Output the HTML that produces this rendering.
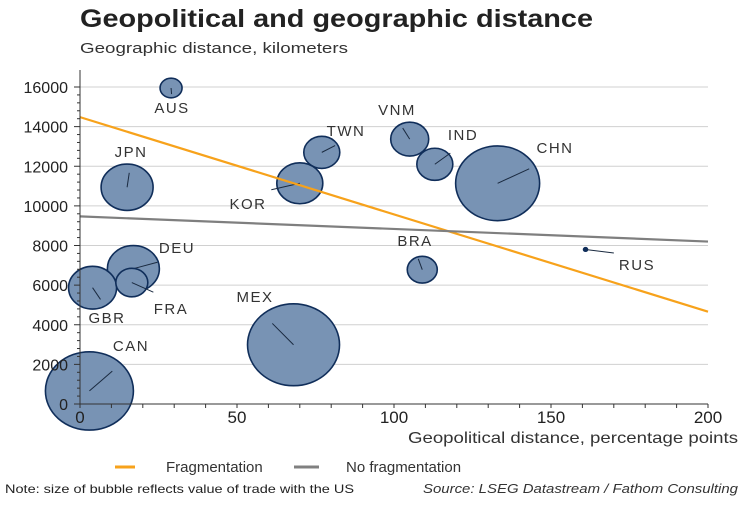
<!DOCTYPE html>
<html><head><meta charset="utf-8"><style>
body{margin:0;background:#fff;}
svg text{font-family:"Liberation Sans",Arial,sans-serif;}
</style></head><body>
<svg id="chart" width="750" height="500" viewBox="0 0 750 500" xmlns="http://www.w3.org/2000/svg">
<text x="80" y="27" font-size="25" font-weight="bold" fill="#222" textLength="513" lengthAdjust="spacingAndGlyphs">Geopolitical and geographic distance</text>
<text x="80" y="53" font-size="15" fill="#333" textLength="268" lengthAdjust="spacingAndGlyphs">Geographic distance, kilometers</text>
<g id="grid"></g>
<g id="bubbles"></g>
<g id="lines"></g>
<g id="axes"></g>
<text x="408" y="443" font-size="16" fill="#333" textLength="330" lengthAdjust="spacingAndGlyphs">Geopolitical distance, percentage points</text>
<line x1="115" y1="467" x2="135" y2="467" stroke="#f7a21b" stroke-width="3"/>
<text x="166" y="472" font-size="15" fill="#333">Fragmentation</text>
<line x1="294" y1="467" x2="319" y2="467" stroke="#808080" stroke-width="3"/>
<text x="346" y="472" font-size="15" fill="#333">No fragmentation</text>
<text x="5" y="493" font-size="12" fill="#222" textLength="349" lengthAdjust="spacingAndGlyphs">Note: size of bubble reflects value of trade with the US</text>
<text x="423" y="493" font-size="13" font-style="italic" fill="#333" textLength="315" lengthAdjust="spacingAndGlyphs">Source: LSEG Datastream / Fathom Consulting</text>
</svg>
<script>
const countries=["AUS","JPN","TWN","KOR","VNM","IND","CHN","RUS","BRA","DEU","GBR","FRA","MEX","CAN"];
const geoPol=[29,15,77,70,105,113,133,161,109,17,4,16.5,68,3];
const geoDist=[15950,10940,12700,11140,13370,12100,11140,7800,6780,6830,5870,6130,2990,660];
const tradeSize=[11,26,18,23,19,18,42,2,15,26,24,16,46,44];
const labelX=[172,131,346,248,397,463,555,637,415,177,107,171,255,131];
const labelY=[113,157,136,209,115,140,153,270,246,253,323,314,302,351];
const fragLine=[[0,14480],[200,4660]];
const noFragLine=[[0,9470],[200,8200]];
const xTicks=[0,50,100,150,200];
const yTicks=[0,2000,4000,6000,8000,10000,12000,14000,16000];
const X0=80,X1=708,Y0=404,Y1=87;
const sx=v=>X0+(X1-X0)*v/200, sy=v=>Y0-(Y0-Y1)*v/16000;
const NS="http://www.w3.org/2000/svg";
function mk(t,a,p){const e=document.createElementNS(NS,t);for(const k in a)e.setAttribute(k,a[k]);p.appendChild(e);return e;}
const grid=document.getElementById('grid'),ax=document.getElementById('axes'),bub=document.getElementById('bubbles'),ln=document.getElementById('lines');
yTicks.forEach(v=>{
 if(v>0){const g=mk('line',{x1:X0,x2:X1,y1:sy(v),y2:sy(v),stroke:'#d0d0d0','stroke-width':1},grid);
 
 }
 const t=mk('text',{x:68,y:sy(v)+6,'font-size':16,fill:'#222','text-anchor':'end'},ax);t.textContent=v;
 
 
});
for(let v=0;v<=16000;v+=400){mk('line',{x1:X0-(v%2000?3:6),x2:X0,y1:sy(v),y2:sy(v),stroke:'#333'},ax);}
for(let v=0;v<=200;v+=10){mk('line',{x1:sx(v),x2:sx(v),y1:Y0,y2:Y0+4,stroke:'#333'},ax);}
xTicks.forEach(v=>{const t=mk('text',{x:sx(v),y:Y0+19,'font-size':17,fill:'#222','text-anchor':'middle'},ax);t.textContent=v;
 
 });
mk('line',{x1:X0,x2:X0,y1:70,y2:Y0,stroke:'#333'},ax);
mk('line',{x1:X0,x2:X1,y1:Y0,y2:Y0,stroke:'#333'},ax);
countries.forEach((c,i)=>{
 const cx=sx(geoPol[i]),cy=sy(geoDist[i]),r=tradeSize[i];
 const e=mk('ellipse',{cx:cx,cy:cy,rx:r,ry:r*0.89,fill:'#7893b4',stroke:'#102e5a','stroke-width':1.6},bub);
 
 
 const lx=labelX[i],ly=labelY[i];
 const ty=ly<cy?ly+4:ly-14;
 mk('line',{x1:cx,y1:cy,x2:cx+(lx-cx)*0.55,y2:cy+(ty-cy)*0.55,stroke:'#1a2a40','stroke-width':1},bub);
 if(r<4)mk('circle',{cx:cx,cy:cy,r:2,fill:'#102e5a'},bub);
 const t=mk('text',{x:lx,y:ly,'font-size':15,fill:'#333','text-anchor':'middle','letter-spacing':'1.5'},bub);t.textContent=c;
 
 
});
const f=mk('line',{x1:sx(fragLine[0][0]),y1:sy(fragLine[0][1]),x2:sx(fragLine[1][0]),y2:sy(fragLine[1][1]),stroke:'#f7a21b','stroke-width':2.2},ln);


const n=mk('line',{x1:sx(noFragLine[0][0]),y1:sy(noFragLine[0][1]),x2:sx(noFragLine[1][0]),y2:sy(noFragLine[1][1]),stroke:'#7f7f7f','stroke-width':2.2},ln);


</script>
</body></html>
